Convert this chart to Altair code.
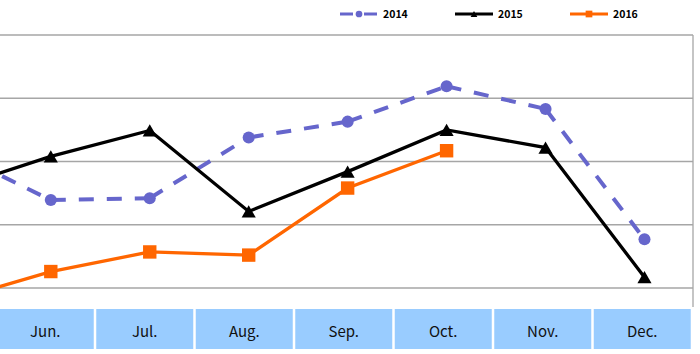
import altair as alt
import pandas as pd

# ---- data ----
months = ["May.", "Jun.", "Jul.", "Aug.", "Sep.", "Oct.", "Nov.", "Dec."]
s2014 = [316, 239, 242, 338, 363, 419, 383, 177]
s2015 = [257, 308, 349, 221, 284, 350, 322, 117]
s2016 = [80, 126, 157, 152, 258, 317]
grid_values = [100, 200, 300, 400, 500]
table_months = ["Jun.", "Jul.", "Aug.", "Sep.", "Oct.", "Nov.", "Dec."]

series_names = ["2014", "2015", "2016"]
series_values = {"2014": s2014, "2015": s2015, "2016": s2016}
colors = {"2014": "#6666CC", "2015": "#000000", "2016": "#FF6600"}
shapes = {"2014": "circle", "2015": "triangle-up", "2016": "square"}
sizes = {"2014": 145, "2015": 200, "2016": 180}

FONT = "Noto Sans CJK JP"

# scales
xline = alt.Scale(domain=[0.4866, 7.561], range=[0, 700], nice=False, zero=False)
xbox = alt.Scale(domain=[0.5452, 7.5804], range=[0, 700], nice=False, zero=False)
yscale = alt.Scale(domain=[-4.35, 555.3], range=[354, 0], nice=False, zero=False)

layers = []

# gridlines (incl. top border)
grid_df = pd.DataFrame({"v": grid_values})
layers.append(
    alt.Chart(grid_df).mark_rule(color="#A6A6A6", strokeWidth=1.3).encode(
        y=alt.Y("v:Q", scale=yscale, axis=None),
        x=alt.value(0), x2=alt.value(693),
    )
)
# right border of the plot frame
layers.append(
    alt.Chart(pd.DataFrame({"a": [0]})).mark_rule(color="#A6A6A6", strokeWidth=1.3).encode(
        x=alt.value(693), y=alt.value(35), y2=alt.value(307)
    )
)

# table boxes under the plot
box_df = pd.DataFrame({"month": table_months,
                       "idx": [months.index(m) for m in table_months]})
box_df["x0"] = box_df["idx"] - 0.5
box_df["x1"] = box_df["idx"] + 0.5
layers.append(
    alt.Chart(box_df).mark_rect(color="#99CCFF", xOffset=1.25, x2Offset=-1.25).encode(
        x=alt.X("x0:Q", scale=xbox, axis=None),
        x2="x1:Q",
        y=alt.value(309), y2=alt.value(349),
    )
)
layers.append(
    alt.Chart(box_df).mark_text(font=FONT, fontSize=15, color="#111111",
                                baseline="middle", align="center").encode(
        x=alt.X("idx:Q", scale=xbox, axis=None),
        y=alt.value(332),
        text="month:N",
    )
)

# series
for name in series_names:
    vals = series_values[name]
    df = pd.DataFrame({"idx": list(range(len(vals))), "value": vals,
                       "month": months[:len(vals)]})
    if name == "2014":
        seg_rows = []
        for i in range(len(vals) - 1):
            for j in (i, i + 1):
                seg_rows.append({"seg": i, "idx": j, "value": vals[j]})
        seg_df = pd.DataFrame(seg_rows)
        layers.append(
            alt.Chart(seg_df).mark_line(color=colors[name], strokeWidth=4,
                                        strokeDash=[15, 13], clip=True).encode(
                x=alt.X("idx:Q", scale=xline, axis=None),
                y=alt.Y("value:Q", scale=yscale, axis=None),
                detail="seg:N",
            )
        )
    else:
        layers.append(
            alt.Chart(df).mark_line(color=colors[name], strokeWidth=3.3, clip=True).encode(
                x=alt.X("idx:Q", scale=xline, axis=None),
                y=alt.Y("value:Q", scale=yscale, axis=None),
            )
        )
    layers.append(
        alt.Chart(df).mark_point(shape=shapes[name], filled=True, opacity=1,
                                 color=colors[name], size=sizes[name], clip=True).encode(
            x=alt.X("idx:Q", scale=xline, axis=None),
            y=alt.Y("value:Q", scale=yscale, axis=None),
        )
    )

# manual legend
one = pd.DataFrame({"a": [0]})
leg_x = {"2014": 340, "2015": 455, "2016": 570}
leg_y = 14
for name in series_names:
    x0 = leg_x[name]
    rule_kw = dict(color=colors[name], strokeWidth=3)
    if name == "2014":
        rule_kw["strokeDash"] = [13, 11]
    layers.append(
        alt.Chart(one).mark_rule(**rule_kw).encode(
            x=alt.value(x0), x2=alt.value(x0 + 38), y=alt.value(leg_y)
        )
    )
    layers.append(
        alt.Chart(one).mark_point(shape=shapes[name], filled=True, opacity=1,
                                  color=colors[name], size=45).encode(
            x=alt.value(x0 + 19), y=alt.value(leg_y)
        )
    )
    layers.append(
        alt.Chart(one).mark_text(text=name, font=FONT, fontSize=10.5, fontWeight="bold",
                                 color="#000000", align="left", baseline="middle").encode(
            x=alt.value(x0 + 43), y=alt.value(leg_y + 0.5)
        )
    )

chart = alt.layer(*layers).resolve_scale(x="independent").properties(
    width=700, height=354, padding=0,
    autosize=alt.AutoSizeParams(type="none"),
    background="white",
).configure_view(stroke=None)

chart.save("out.html", embed_options={"renderer": "svg", "actions": False})
